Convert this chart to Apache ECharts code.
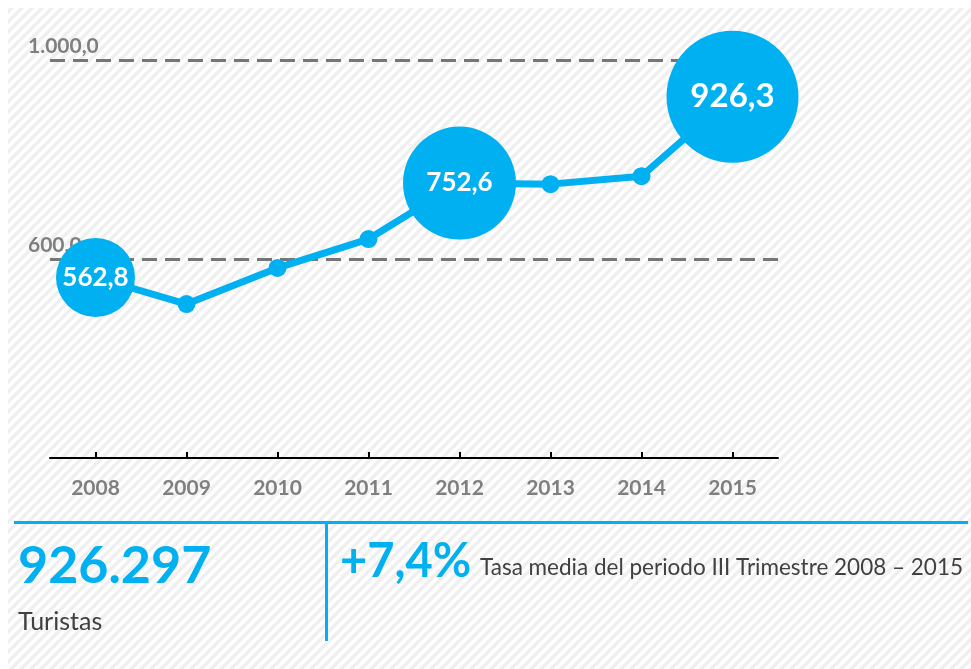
<!DOCTYPE html>
<html>
<head>
<meta charset="utf-8">
<script src="https://cdn.jsdelivr.net/npm/echarts@6/dist/echarts.min.js"></script>
<style>
  html, body { margin: 0; padding: 0; background: #fff; }
  #main { width: 971px; height: 669px; }
</style>
</head>
<body>
<div id="main"></div>
<script>
var years = ['2008', '2009', '2010', '2011', '2012', '2013', '2014', '2015'];
var turistas = [562.8, 509.5, 582.0, 640.0, 752.6, 750.5, 766.5, 926.3];
var bubbleYears = ['2008', '2012', '2015'];
var yTicks = [200, 600, 1000];

var blue = '#00B0F0';
var font = 'Lato, "Open Sans", sans-serif';

// striped background
function stripes() {
    var c = document.createElement('canvas');
    c.width = 10;
    c.height = 10;
    var ctx = c.getContext('2d');
    ctx.strokeStyle = '#efefef';
    ctx.lineWidth = 3.5;
    ctx.beginPath();
    ctx.moveTo(-5, 5); ctx.lineTo(5, -5);
    ctx.moveTo(0, 10); ctx.lineTo(10, 0);
    ctx.moveTo(5, 15); ctx.lineTo(15, 5);
    ctx.stroke();
    return c;
}

function fmt(v) {
    var s = v.toFixed(1).replace('.', ',');
    return s.replace(/^(\d)(\d{3})/, '$1.$2');
}

var bubbleSize = { '2008': 79, '2012': 113, '2015': 132 };
var bubbleFont = { '2008': 26, '2012': 26, '2015': 33 };

var data = turistas.map(function (v, i) {
    var y = years[i];
    if (bubbleYears.indexOf(y) >= 0) {
        return {
            value: v,
            symbolSize: bubbleSize[y],
            label: {
                show: true,
                position: 'inside',
                color: '#fff',
                fontWeight: 'bold',
                fontFamily: font,
                fontSize: bubbleFont[y],
                formatter: function (p) { return fmt(p.value); }
            }
        };
    }
    return { value: v, symbolSize: 18 };
});

var chart = echarts.init(document.getElementById('main'));
var option = {
    animation: false,
    backgroundColor: '#fff',
    grid: { left: 50, right: 193, top: 60, bottom: 211 },
    xAxis: {
        type: 'category',
        data: years,
        boundaryGap: true,
        z: 5,
        axisLine: { lineStyle: { color: '#000', width: 2 } },
        axisTick: { show: true, inside: true, alignWithLabel: true, length: 6, lineStyle: { color: '#000', width: 2 } },
        axisLabel: { color: '#7f7f7f', fontWeight: 'bold', fontSize: 21, fontFamily: font, margin: 20 }
    },
    yAxis: {
        type: 'value',
        min: yTicks[0],
        max: yTicks[2],
        interval: yTicks[1] - yTicks[0],
        axisLine: { show: false },
        axisTick: { show: false },
        splitLine: {
            showMinLine: false,
            lineStyle: { color: '#767676', width: 3, type: [15, 8] }
        },
        axisLabel: {
            showMinLabel: false,
            align: 'left',
            verticalAlign: 'bottom',
            margin: 22,
            padding: [0, 0, 3, 0],
            color: '#7f7f7f',
            fontWeight: 'bold',
            fontSize: 21,
            fontFamily: font,
            formatter: function (v) { return yTicks.indexOf(v) > 0 ? fmt(v) : ''; }
        }
    },
    series: [{
        type: 'line',
        data: data,
        symbol: 'circle',
        lineStyle: { color: blue, width: 7 },
        itemStyle: { color: blue },
        z: 3
    }],
    graphic: [
        { type: 'rect', z: -10, silent: true, shape: { x: 8, y: 8, width: 963, height: 661 },
          style: { fill: { image: stripes(), repeat: 'repeat' } } },
        { type: 'rect', shape: { x: 14, y: 521, width: 954, height: 3 }, style: { fill: blue } },
        { type: 'rect', shape: { x: 325, y: 521, width: 3, height: 120 }, style: { fill: blue } },
        { type: 'text', x: 18, y: 566, style: { text: '926.297', fill: blue, font: 'bold 52px ' + font, textVerticalAlign: 'middle' } },
        { type: 'text', x: 18, y: 622, style: { text: 'Turistas', fill: '#404040', font: '25px ' + font, textVerticalAlign: 'middle' } },
        { type: 'text', x: 340, y: 562, style: { text: '+7,4%', fill: blue, font: 'bold 47px ' + font, textVerticalAlign: 'middle' } },
        { type: 'text', x: 480, y: 568, style: { text: 'Tasa media del periodo III Trimestre 2008 \u2013 2015', fill: '#404040', font: '22.5px ' + font, textVerticalAlign: 'middle' } }
    ]
};
chart.setOption(option);
</script>
</body>
</html>
